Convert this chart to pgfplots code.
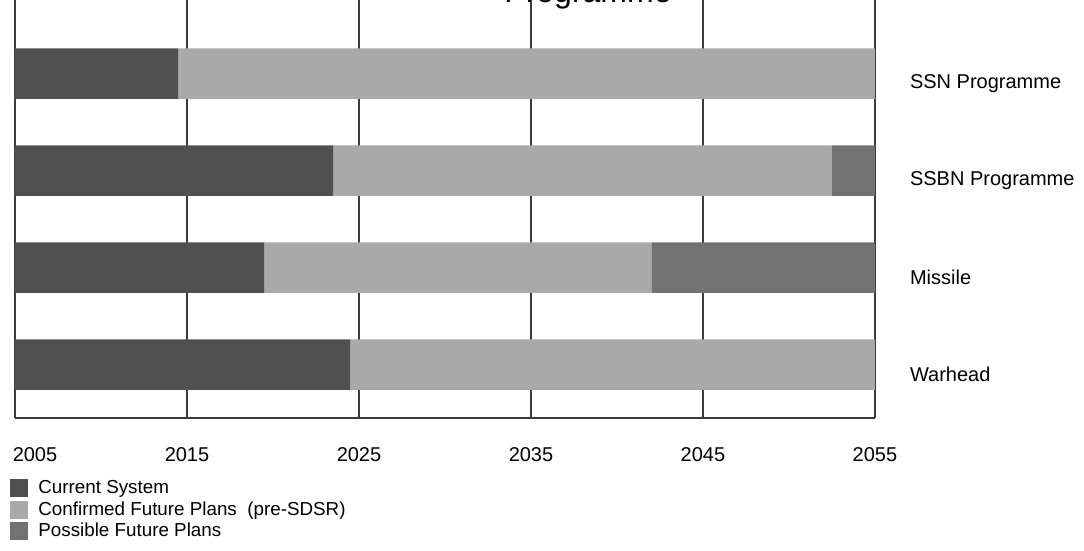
\documentclass[border=0pt]{standalone}
\usepackage{pgfplots}
\pgfplotsset{compat=1.18}
\usepackage{fontspec}
\setmainfont{Liberation Sans}
\usetikzlibrary{calc}

\definecolor{cur}{HTML}{505050}
\definecolor{conf}{HTML}{A9A9A9}
\definecolor{poss}{HTML}{727272}
\definecolor{gridc}{HTML}{3C3C3C}

\begin{document}
\begin{tikzpicture}
\begin{axis}[
    name=ax,
    xbar stacked,
    bar width=0.52,
    scale only axis,
    width=430pt, height=209pt,
    xmin=2005, xmax=2055,
    ymin=-0.55, ymax=3.76,
    xtick={2005,2015,...,2055},
    xticklabels={\hspace*{20pt}2005,2015,2025,2035,2045,2055},
    ytick={0,1,2,3},
    yticklabels={Warhead,Missile,SSBN Programme,SSN Programme},
    axis x line*=bottom,
    axis y line*=right,
    axis line style={gridc, line width=0.6pt, -},
    xmajorgrids,
    grid style={gridc, line width=0.6pt},
    major tick length=0pt,
    tick label style={font=\fontsize{10}{12}\selectfont},
    xticklabel style={yshift=-11pt},
    yticklabel style={xshift=14pt, yshift=-5pt},
    legend style={at={(0,0)}, anchor=north west, xshift=-2.5pt, yshift=-30pt,
        draw=none, fill=none, inner sep=0pt, row sep=0.5pt,
        font=\fontsize{9.4}{11}\selectfont, nodes={inner sep=1pt},
        /tikz/every odd column/.append style={column sep=4pt}},
    legend cell align=left,
    legend image code/.code={\fill[#1] (0pt,-4.5pt) rectangle (9pt,4.5pt);},
]
% first series holds the end year of the current system, the others durations
\addplot[fill=cur, draw=none] coordinates {(2024.5,0) (2019.5,1) (2023.5,2) (2014.5,3)};
\addplot[fill=conf, draw=none] coordinates {(30.5,0) (22.5,1) (29,2) (40.5,3)};
\addplot[fill=poss, draw=none] coordinates {(0,0) (13,1) (2.5,2) (0,3)};
\legend{Current System, Confirmed Future Plans\ \ (pre-SDSR), Possible Future Plans}
\coordinate (bl) at (rel axis cs:0,0);
\coordinate (tl) at (rel axis cs:0,1);
\end{axis}
\node[anchor=base, font=\fontsize{16}{16}\selectfont] at ($(tl)+(286.5pt,-1.5pt)$) {Programme};
\pgfresetboundingbox
\useasboundingbox ($(bl)+(-7.5pt,-66.5pt)$) rectangle ($(tl)+(534.5pt,0pt)$);
\end{tikzpicture}
\end{document}
